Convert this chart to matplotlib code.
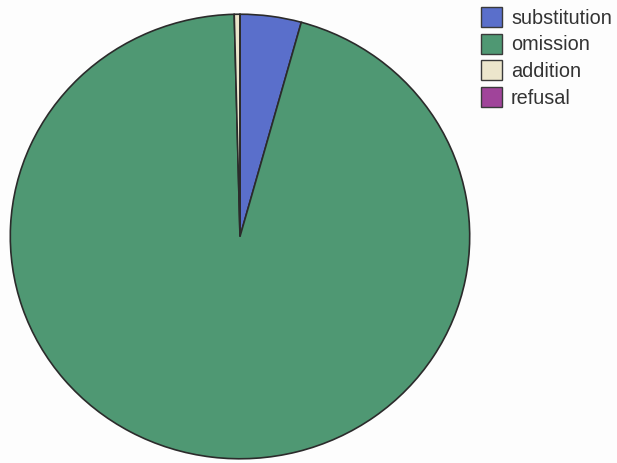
import matplotlib
matplotlib.use("Agg")
import matplotlib.pyplot as plt
from matplotlib.patches import Rectangle

# Error-type shares (percent)
categories = ["substitution", "omission", "addition", "refusal"]
shares = [4.3, 95.3, 0.4, 0.0]
colors = ["#5a6fcb", "#4f9873", "#ece6cc", "#a0449a"]

W, H = 617, 464
fig = plt.figure(figsize=(W / 100, H / 100), dpi=100)
fig.patch.set_facecolor("#fdfdfd")

# Axes spanning the pie's bounding box (pixels: x 8..472, y 13..462)
x0, x1, y0, y1 = 8, 472, 13, 462
ax = fig.add_axes([x0 / W, 1 - y1 / H, (x1 - x0) / W, (y1 - y0) / H])
ax.pie(shares, colors=colors, startangle=90, counterclock=False, radius=1,
       wedgeprops=dict(edgecolor="#2b2b2b", linewidth=1.2))
ax.set_aspect("auto")
ax.set_xlim(-1.01, 1.01)
ax.set_ylim(-1.01, 1.01)
ax.axis("off")

# Legend drawn in pixel coordinates of the figure
box_x, box_w, box_h = 481, 21, 20
row0, step = 8, 26.7
for i, (lab, col) in enumerate(zip(categories, colors)):
    top = row0 + i * step
    fig.add_artist(Rectangle((box_x / W, 1 - (top + box_h) / H), box_w / W, box_h / H,
                             transform=fig.transFigure, facecolor=col,
                             edgecolor="#3a3a3a", linewidth=1.0))
    fig.text(511 / W, 1 - (top + box_h / 2) / H, lab, fontsize=14.3,
             family="Liberation Sans", color="#333333", va="center", ha="left")

fig.savefig("out.png", dpi=100, facecolor=fig.get_facecolor())
